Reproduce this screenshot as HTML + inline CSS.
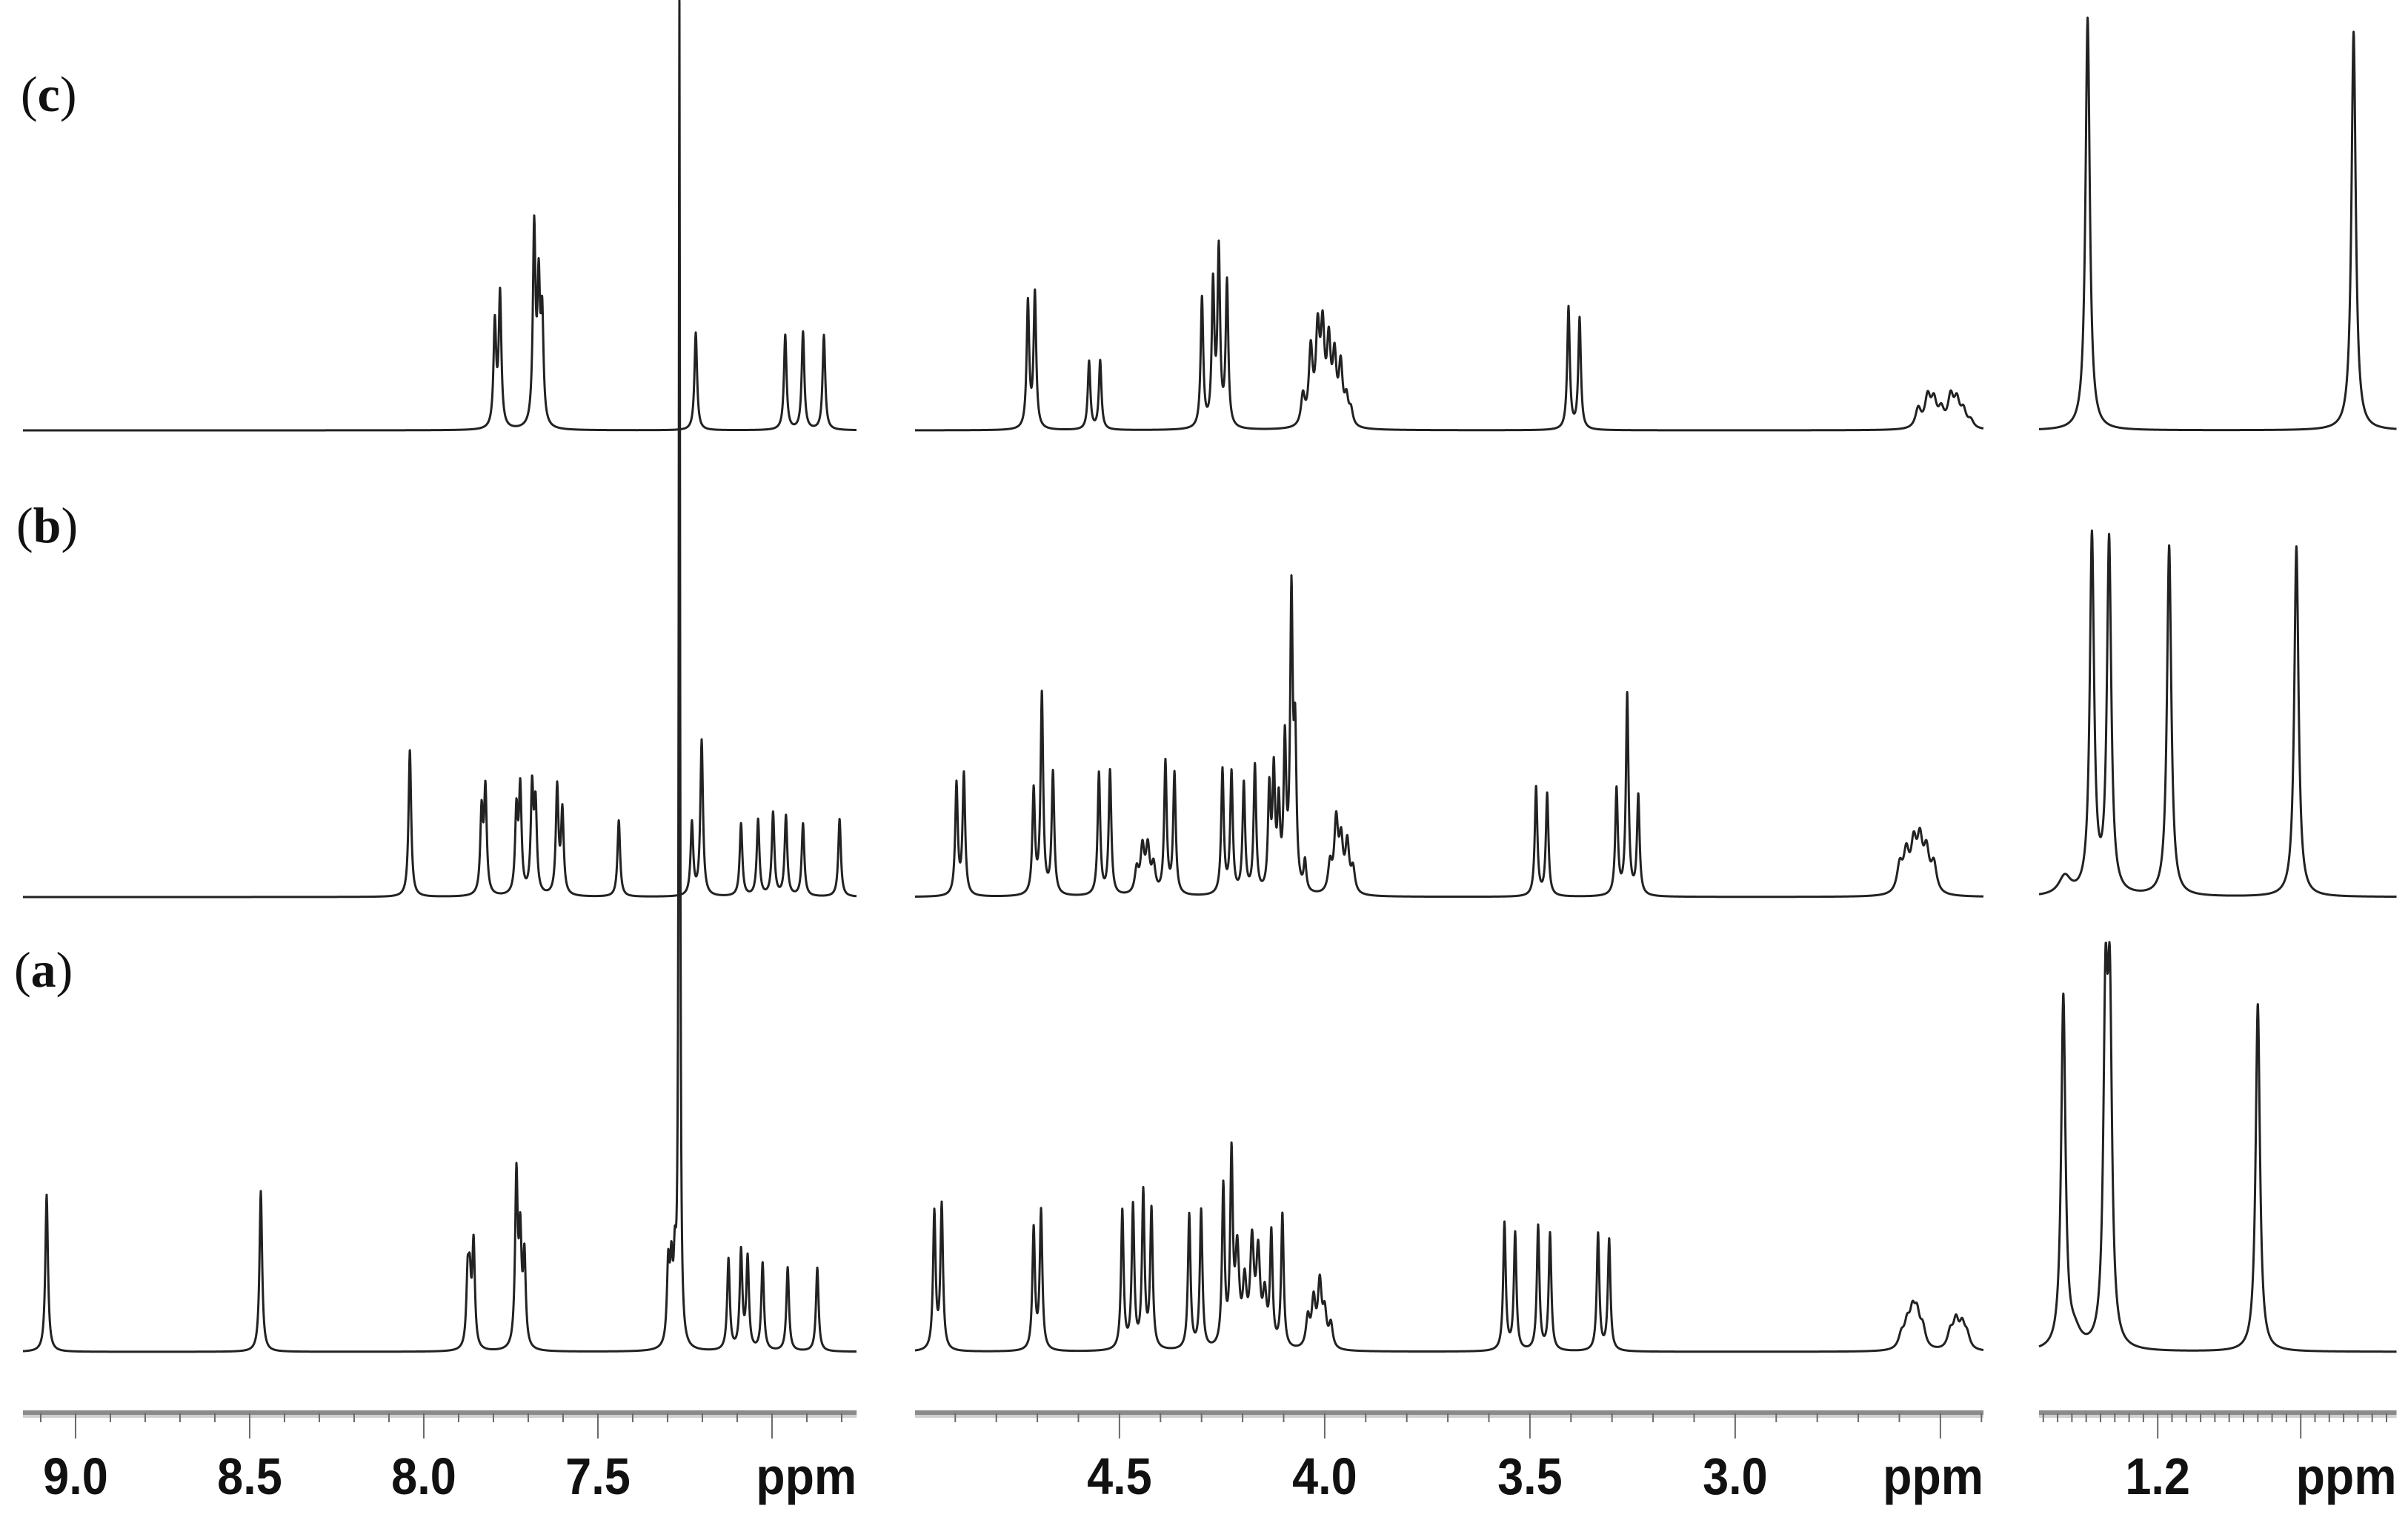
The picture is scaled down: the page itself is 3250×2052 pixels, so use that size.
<!DOCTYPE html>
<html><head><meta charset="utf-8"><title>1H NMR spectra (a)-(c)</title>
<style>
html,body{margin:0;padding:0;background:#fff;}
svg{display:block;}
.lbl{font-family:"Liberation Sans",Arial,sans-serif;font-weight:bold;font-size:70px;fill:#111;}
.sl{font-family:"Liberation Serif","Times New Roman",serif;font-size:68px;fill:#111;}
</style></head>
<body>
<svg id="chart" width="3250" height="2052" viewBox="0 0 3250 2052" xmlns="http://www.w3.org/2000/svg">
<g id="axes"></g>
<g id="spectra"></g>
<text class="sl" x="28" y="150">(<tspan font-weight="bold">c</tspan>)</text>
<text class="sl" x="22" y="732">(<tspan font-weight="bold">b</tspan>)</text>
<text class="sl" x="19" y="1332">(<tspan font-weight="bold">a</tspan>)</text>
</svg>
<script>
// ---- data (chemical shift ppm, intensity, linewidth ppm) ----
const specA_shift=[9.083,8.468,7.874,7.868,7.857,7.734,7.723,7.711,7.266,7.298,7.289,7.279,7.125,7.089,7.070,7.027,6.955,6.870,
4.951,4.933,4.709,4.691,4.493,4.467,4.442,4.422,4.330,4.301,4.247,4.227,4.213,4.195,4.177,4.162,4.146,4.130,4.103,4.041,4.027,4.012,4.000,3.985,3.562,3.536,3.480,3.451,3.334,3.307,
2.595,2.581,2.568,2.557,2.543,2.476,2.462,2.447,2.435,
1.266,1.2365,1.2335,1.130,1.258];
const specA_int=[212,217,90,80,140,230,140,120,1808,105,95,95,123,132,123,118,113,113,
185,195,163,187,187,192,210,187,182,187,215,252,125,80,135,120,65,150,180,40,62,85,45,32,172,158,168,158,158,150,
18,30,42,40,26,22,36,30,18,
475,430,430,469,20];
const specA_lw=[0.009,0.009,0.009,0.009,0.009,0.009,0.009,0.009,0.0045,0.009,0.009,0.009,0.009,0.009,0.009,0.009,0.009,0.009,
0.0075,0.0075,0.0075,0.0075,0.0075,0.0075,0.0075,0.0075,0.0075,0.0075,0.0075,0.0075,0.011,0.011,0.011,0.011,0.011,0.0075,0.0075,0.011,0.011,0.011,0.011,0.011,0.0075,0.0075,0.0075,0.0075,0.0075,0.0075,
0.016,0.016,0.016,0.016,0.016,0.016,0.016,0.016,0.016,
0.0036,0.0036,0.0036,0.0036,0.01];

const specB_shift=[8.040,7.834,7.823,7.734,7.723,7.689,7.679,7.617,7.602,7.440,7.230,7.202,7.089,7.040,6.997,6.960,6.911,6.806,
4.897,4.879,4.709,4.689,4.662,4.550,4.523,4.458,4.444,4.431,4.417,4.388,4.366,4.249,4.227,4.197,4.170,4.135,4.124,4.112,4.097,4.081,4.072,4.048,3.987,3.972,3.960,3.945,3.931,3.485,3.458,3.289,3.263,3.236,
2.599,2.583,2.565,2.550,2.534,2.516,
1.246,1.234,1.192,1.103,1.265];
const specB_int=[198,110,140,110,140,140,115,145,112,103,98,210,98,103,112,108,98,105,
150,163,140,270,165,165,168,32,60,60,36,178,163,168,163,148,172,135,155,110,195,390,195,40,38,95,66,66,32,147,138,143,271,134,
36,50,60,64,52,38,
482,478,473,473,25];
const specB_lw=[0.009,0.009,0.009,0.009,0.009,0.009,0.009,0.009,0.009,0.009,0.009,0.009,0.009,0.009,0.009,0.009,0.009,0.009,
0.0075,0.0075,0.0075,0.0075,0.0075,0.0075,0.0075,0.011,0.011,0.011,0.011,0.0075,0.0075,0.0075,0.0075,0.0075,0.0075,0.0075,0.0075,0.0075,0.0075,0.0075,0.0075,0.0075,0.011,0.011,0.011,0.011,0.011,0.0075,0.0075,0.0075,0.0075,0.0075,
0.016,0.016,0.016,0.016,0.016,0.016,
0.0036,0.0036,0.0036,0.0036,0.01];

const specC_shift=[7.796,7.781,7.683,7.670,7.660,7.219,6.962,6.911,6.851,
4.723,4.706,4.574,4.547,4.299,4.272,4.258,4.238,4.053,4.034,4.017,4.005,3.990,3.976,3.961,3.947,3.936,3.406,3.379,
2.554,2.531,2.516,2.498,2.475,2.460,2.444,2.426,
1.249,1.063];
const specC_int=[140,180,265,180,140,132,128,132,128,
170,182,92,93,175,190,235,195,40,100,120,120,104,86,78,34,20,165,150,
26,40,34,22,40,34,22,10,
557,538];
const specC_lw=[0.009,0.009,0.009,0.009,0.009,0.009,0.009,0.009,0.009,
0.0075,0.0075,0.0075,0.0075,0.0075,0.0075,0.0075,0.0075,0.011,0.011,0.011,0.011,0.011,0.011,0.011,0.011,0.011,0.0075,0.0075,
0.016,0.016,0.016,0.016,0.016,0.016,0.016,0.016,
0.0036,0.0036];

const panelLeftPpm=[9.151,4.998,1.283];
const panelRightPpm=[6.757,2.395,1.033];
const tickLabelsP1=["9.0","8.5","8.0","7.5"];
const tickLabelsP2=["4.5","4.0","3.5","3.0"];
const tickLabelsP3=["1.2"];

// ---- geometry ----
const panelX0=[31,1235,2752];
const panelPxPerPpm=[470,554,1930];
const baselines={c:581,b:1211,a:1825};
const NS='http://www.w3.org/2000/svg';

function xScale(p,ppm){return panelX0[p]+(panelLeftPpm[p]-ppm)*panelPxPerPpm[p];}
function ppmAt(p,x){return panelLeftPpm[p]-(x-panelX0[p])/panelPxPerPpm[p];}

function drawSpectrum(key,shift,inten,lw){
  const g=document.getElementById('spectra');
  const y0=baselines[key];
  for(let p=0;p<3;p++){
    const x1=xScale(p,panelRightPpm[p]);
    const lines=[];
    for(let i=0;i<shift.length;i++){
      if(shift[i]<=panelLeftPpm[p]+0.05 && shift[i]>=panelRightPpm[p]-0.05) lines.push(i);
    }
    const xs=[];
    for(let x=panelX0[p];x<=x1;x+=0.5) xs.push(x);
    lines.forEach(i=>xs.push(xScale(p,shift[i])));
    xs.sort((a,b)=>a-b);
    let d='';
    xs.forEach((x,k)=>{
      const ppm=ppmAt(p,x);
      let s=0;
      lines.forEach(i=>{const hw=lw[i]/2;const u=(ppm-shift[i])/hw;s+=inten[i]/(1+u*u);});
      d+=(k?'L':'M')+x.toFixed(2)+' '+(y0-s).toFixed(2);
    });
    const path=document.createElementNS(NS,'path');
    path.setAttribute('d',d);
    path.setAttribute('fill','none');
    path.setAttribute('stroke','#222');
    path.setAttribute('stroke-width','3');
    path.setAttribute('stroke-linejoin','round');
    
    
    g.appendChild(path);
  }
}
drawSpectrum('c',specC_shift,specC_int,specC_lw);
drawSpectrum('b',specB_shift,specB_int,specB_lw);
drawSpectrum('a',specA_shift,specA_int,specA_lw);

// ---- axes ----
function drawAxis(p,step,majorEvery,labels,labelVals){
  const g=document.getElementById('axes');
  const xa=xScale(p,panelLeftPpm[p]), xb=xScale(p,panelRightPpm[p]);
  const bar=document.createElementNS(NS,'rect');
  bar.setAttribute('x',xa);bar.setAttribute('y',1904);
  bar.setAttribute('width',xb-xa);bar.setAttribute('height',6);
  bar.setAttribute('fill','#8a8a8a');
  
  
  g.appendChild(bar);
  const band=document.createElementNS(NS,'rect');
  band.setAttribute('x',xa);band.setAttribute('y',1910);
  band.setAttribute('width',xb-xa);band.setAttribute('height',4);
  band.setAttribute('fill','#cfcfcf');
  
  
  g.appendChild(band);
  const nStart=Math.floor(panelLeftPpm[p]/step+1e-6);
  const nEnd=Math.ceil(panelRightPpm[p]/step-1e-6);
  for(let n=nStart;n>=nEnd;n--){
    const v=n*step; const x=xScale(p,v);
    if(x<xa-1||x>xb+1) continue;
    const major=(n%majorEvery===0);
    const t=document.createElementNS(NS,'line');
    t.setAttribute('x1',x);t.setAttribute('x2',x);
    t.setAttribute('y1',1908);t.setAttribute('y2',major?1942:1920);
    t.setAttribute('stroke','#6a6a6a');t.setAttribute('stroke-width','2');
    
    
    g.appendChild(t);
  }
  labels.forEach((s,i)=>{
    const tx=document.createElementNS(NS,'text');
    const cx=xScale(p,labelVals[i]);
    tx.setAttribute('x',0);tx.setAttribute('y',0);
    tx.setAttribute('transform','translate('+cx+',2017) scale(0.9,1)');
    tx.setAttribute('text-anchor','middle');tx.setAttribute('class','lbl');
    
    
    tx.textContent=s;g.appendChild(tx);
  });
  const u=document.createElementNS(NS,'text');
  u.setAttribute('x',0);u.setAttribute('y',0);
  u.setAttribute('transform','translate('+xb+',2017) scale(0.92,1)');
  u.setAttribute('text-anchor','end');u.setAttribute('class','lbl');
  
  
  u.textContent='ppm';g.appendChild(u);
}
drawAxis(0,0.1,5,tickLabelsP1,tickLabelsP1.map(Number));
drawAxis(1,0.1,5,tickLabelsP2,tickLabelsP2.map(Number));
drawAxis(2,0.01,10,tickLabelsP3,tickLabelsP3.map(Number));
</script>
</body></html>
